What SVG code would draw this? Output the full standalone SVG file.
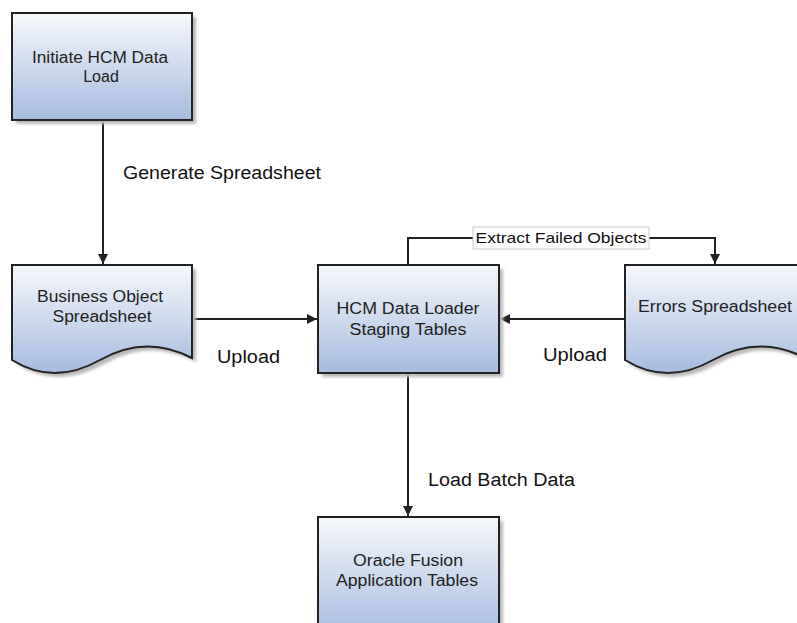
<svg xmlns="http://www.w3.org/2000/svg" width="797" height="623" viewBox="0 0 797 623">
  <style>
    .shape { fill: url(#grad); stroke: #222; stroke-width: 2; }
    .shadow { fill: #b8b8b8; filter: url(#blur); }
    .node-text { font-family: "Liberation Sans", Arial, sans-serif; font-size: 16px; fill: #222; text-anchor: middle; }
    .label { font-family: "Liberation Sans", Arial, sans-serif; font-size: 18px; fill: #111; }
    .small-label { font-family: "Liberation Sans", Arial, sans-serif; font-size: 15px; fill: #111; text-anchor: middle; }
    .conn { fill: none; stroke: #222; stroke-width: 2; }
  </style>
  <defs>
    <linearGradient id="grad" x1="0" y1="0" x2="0" y2="1">
      <stop offset="0" stop-color="#f6f8fc"/>
      <stop offset="1" stop-color="#a6bbdf"/>
    </linearGradient>
    <filter id="blur" x="-10%" y="-10%" width="120%" height="120%">
      <feGaussianBlur stdDeviation="1.5"/>
    </filter>
    <marker id="arrow" viewBox="0 0 10 10" refX="10" refY="5" markerWidth="10" markerHeight="10" markerUnits="userSpaceOnUse" orient="auto">
      <path d="M0,0 L10,5 L0,10 Z" fill="#222"/>
    </marker>
  </defs>
  <rect width="797" height="623" fill="#ffffff"/>

  <g id="connectors">
    <path class="conn" d="M103,121 V264" marker-end="url(#arrow)"/>
    <path class="conn" d="M193,319 H317" marker-end="url(#arrow)"/>
    <path class="conn" d="M624,319 H500" marker-end="url(#arrow)"/>
    <path class="conn" d="M408,264 V238 H715 V264" marker-end="url(#arrow)"/>
    <path class="conn" d="M408,374 V516" marker-end="url(#arrow)"/>
  </g>

  <g id="labels">
    <text class="label" x="123" y="179" textLength="198" lengthAdjust="spacingAndGlyphs">Generate Spreadsheet</text>
    <text class="label" x="217" y="363" textLength="63" lengthAdjust="spacingAndGlyphs">Upload</text>
    <text class="label" x="543" y="361" textLength="64" lengthAdjust="spacingAndGlyphs">Upload</text>
    <text class="label" x="428" y="486" textLength="147" lengthAdjust="spacingAndGlyphs">Load Batch Data</text>
    <g id="extract-label">
      <rect x="473" y="227" width="176" height="22" fill="#ffffff" stroke="#cccccc" stroke-width="1"/>
      <text class="small-label" x="561" y="243" textLength="171" lengthAdjust="spacingAndGlyphs">Extract Failed Objects</text>
    </g>
  </g>

  <g id="initiate">
    <rect class="shadow" x="16" y="17" width="180" height="107"/>
    <rect class="shape" x="12" y="13" width="180" height="107"/>
    <text class="node-text" x="100" y="63" textLength="136" lengthAdjust="spacingAndGlyphs">Initiate HCM Data</text>
    <text class="node-text" x="101" y="82">Load</text>
  </g>

  <g id="business-object">
    <path class="shadow" transform="translate(4,4)" d="M12,265 H192 V358 Q146,334 100,360 T12,360 Z"/>
    <path class="shape" d="M12,265 H192 V358 Q146,334 100,360 T12,360 Z"/>
    <text class="node-text" x="100" y="302" textLength="126" lengthAdjust="spacingAndGlyphs">Business Object</text>
    <text class="node-text" x="102" y="322" textLength="99" lengthAdjust="spacingAndGlyphs">Spreadsheet</text>
  </g>

  <g id="staging">
    <rect class="shadow" x="322" y="269" width="181" height="108"/>
    <rect class="shape" x="318" y="265" width="181" height="108"/>
    <text class="node-text" x="408" y="314" textLength="143" lengthAdjust="spacingAndGlyphs">HCM Data Loader</text>
    <text class="node-text" x="408" y="335" textLength="117" lengthAdjust="spacingAndGlyphs">Staging Tables</text>
  </g>

  <g id="errors">
    <path class="shadow" transform="translate(4,4)" d="M625,265 H805 V358 Q759,334 713,360 T625,360 Z"/>
    <path class="shape" d="M625,265 H805 V358 Q759,334 713,360 T625,360 Z"/>
    <text class="node-text" x="715" y="312" textLength="154" lengthAdjust="spacingAndGlyphs">Errors Spreadsheet</text>
  </g>

  <g id="oracle">
    <rect class="shadow" x="322" y="521" width="181" height="120"/>
    <rect class="shape" x="318" y="517" width="181" height="120"/>
    <text class="node-text" x="408" y="566" textLength="110" lengthAdjust="spacingAndGlyphs">Oracle Fusion</text>
    <text class="node-text" x="407" y="586" textLength="142" lengthAdjust="spacingAndGlyphs">Application Tables</text>
  </g>
</svg>
